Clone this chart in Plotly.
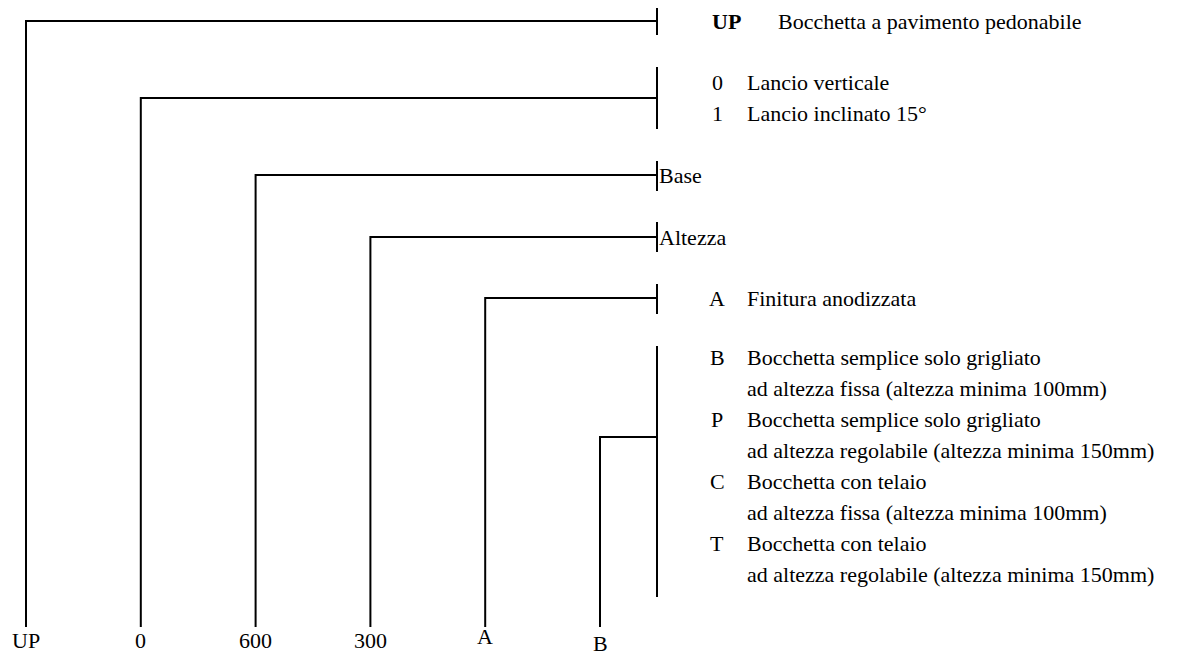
import plotly.graph_objects as go

# ---- data ----
codes = ["UP", "0", "600", "300", "A", "B"]
group_labels = [
    [("UP", "Bocchetta a pavimento pedonabile")],
    [("0", "Lancio verticale"), ("1", "Lancio inclinato 15°")],
    [("", "Base")],
    [("", "Altezza")],
    [("A", "Finitura anodizzata")],
    [("B", "Bocchetta semplice solo grigliato"), ("", "ad altezza fissa (altezza minima 100mm)"),
     ("P", "Bocchetta semplice solo grigliato"), ("", "ad altezza regolabile (altezza minima 150mm)"),
     ("C", "Bocchetta con telaio"), ("", "ad altezza fissa (altezza minima 100mm)"),
     ("T", "Bocchetta con telaio"), ("", "ad altezza regolabile (altezza minima 150mm)")],
]

# ---- layout geometry (pixel-like data units) ----
W, H = 1181, 656
col_x = [26 + 114.8 * i for i in range(len(codes))]
bracket_x = 657
elbow_y = [21, 98, 175, 237, 298, 437]
bracket_span = [(8, 35), (67, 129), (161, 191), (222, 252), (284, 314), (346, 597)]
row_y = [[21], [82, 113], [175], [237], [298], [357 + 31 * k for k in range(8)]]
bottom_y = 627
code_x = 717
desc_x = 745

FONT = "Liberation Serif"
FS = 22

fig = go.Figure()
line = dict(color="black", width=2)

for i, c in enumerate(codes):
    # elbow connector
    fig.add_trace(go.Scatter(x=[col_x[i], col_x[i], bracket_x], y=[bottom_y, elbow_y[i], elbow_y[i]],
                             mode="lines", line=line, hoverinfo="skip", showlegend=False))
    # bracket
    y0, y1 = bracket_span[i]
    fig.add_trace(go.Scatter(x=[bracket_x, bracket_x], y=[y0, y1],
                             mode="lines", line=line, hoverinfo="skip", showlegend=False))

annotations = []
# bottom labels
bottom_label_y = [640, 640, 640, 640, 636, 643]
for i, c in enumerate(codes):
    annotations.append(dict(x=col_x[i], y=bottom_label_y[i], text=c, showarrow=False,
                            xanchor="center", yanchor="middle",
                            font=dict(family=FONT, size=FS, color="black")))

# right-side text
for gi, rows in enumerate(group_labels):
    for (code, desc), y in zip(rows, row_y[gi]):
        if gi == 0:
            annotations.append(dict(x=710, y=y, text="<b>" + code + "</b>", showarrow=False,
                                    xanchor="left", yanchor="middle",
                                    font=dict(family=FONT, size=FS, color="black")))
            annotations.append(dict(x=776, y=y, text=desc, showarrow=False,
                                    xanchor="left", yanchor="middle",
                                    font=dict(family=FONT, size=FS, color="black")))
        elif gi in (2, 3):
            annotations.append(dict(x=bracket_x, y=y, text=desc, showarrow=False,
                                    xanchor="left", yanchor="middle",
                                    font=dict(family=FONT, size=FS, color="black")))
        else:
            if code:
                annotations.append(dict(x=code_x, y=y, text=code, showarrow=False,
                                        xanchor="center", yanchor="middle",
                                        font=dict(family=FONT, size=FS, color="black")))
            annotations.append(dict(x=desc_x, y=y, text=desc, showarrow=False,
                                    xanchor="left", yanchor="middle",
                                    font=dict(family=FONT, size=FS, color="black")))

fig.update_layout(
    width=W, height=H,
    margin=dict(l=0, r=0, t=0, b=0),
    plot_bgcolor="white", paper_bgcolor="white",
    xaxis=dict(range=[0, W], visible=False, fixedrange=True),
    yaxis=dict(range=[H, 0], visible=False, fixedrange=True),
    annotations=annotations,
    showlegend=False,
)

fig.write_html("out.html", config={"displayModeBar": False},
               post_script="document.body.style.margin='0px';document.body.style.overflow='hidden';")
